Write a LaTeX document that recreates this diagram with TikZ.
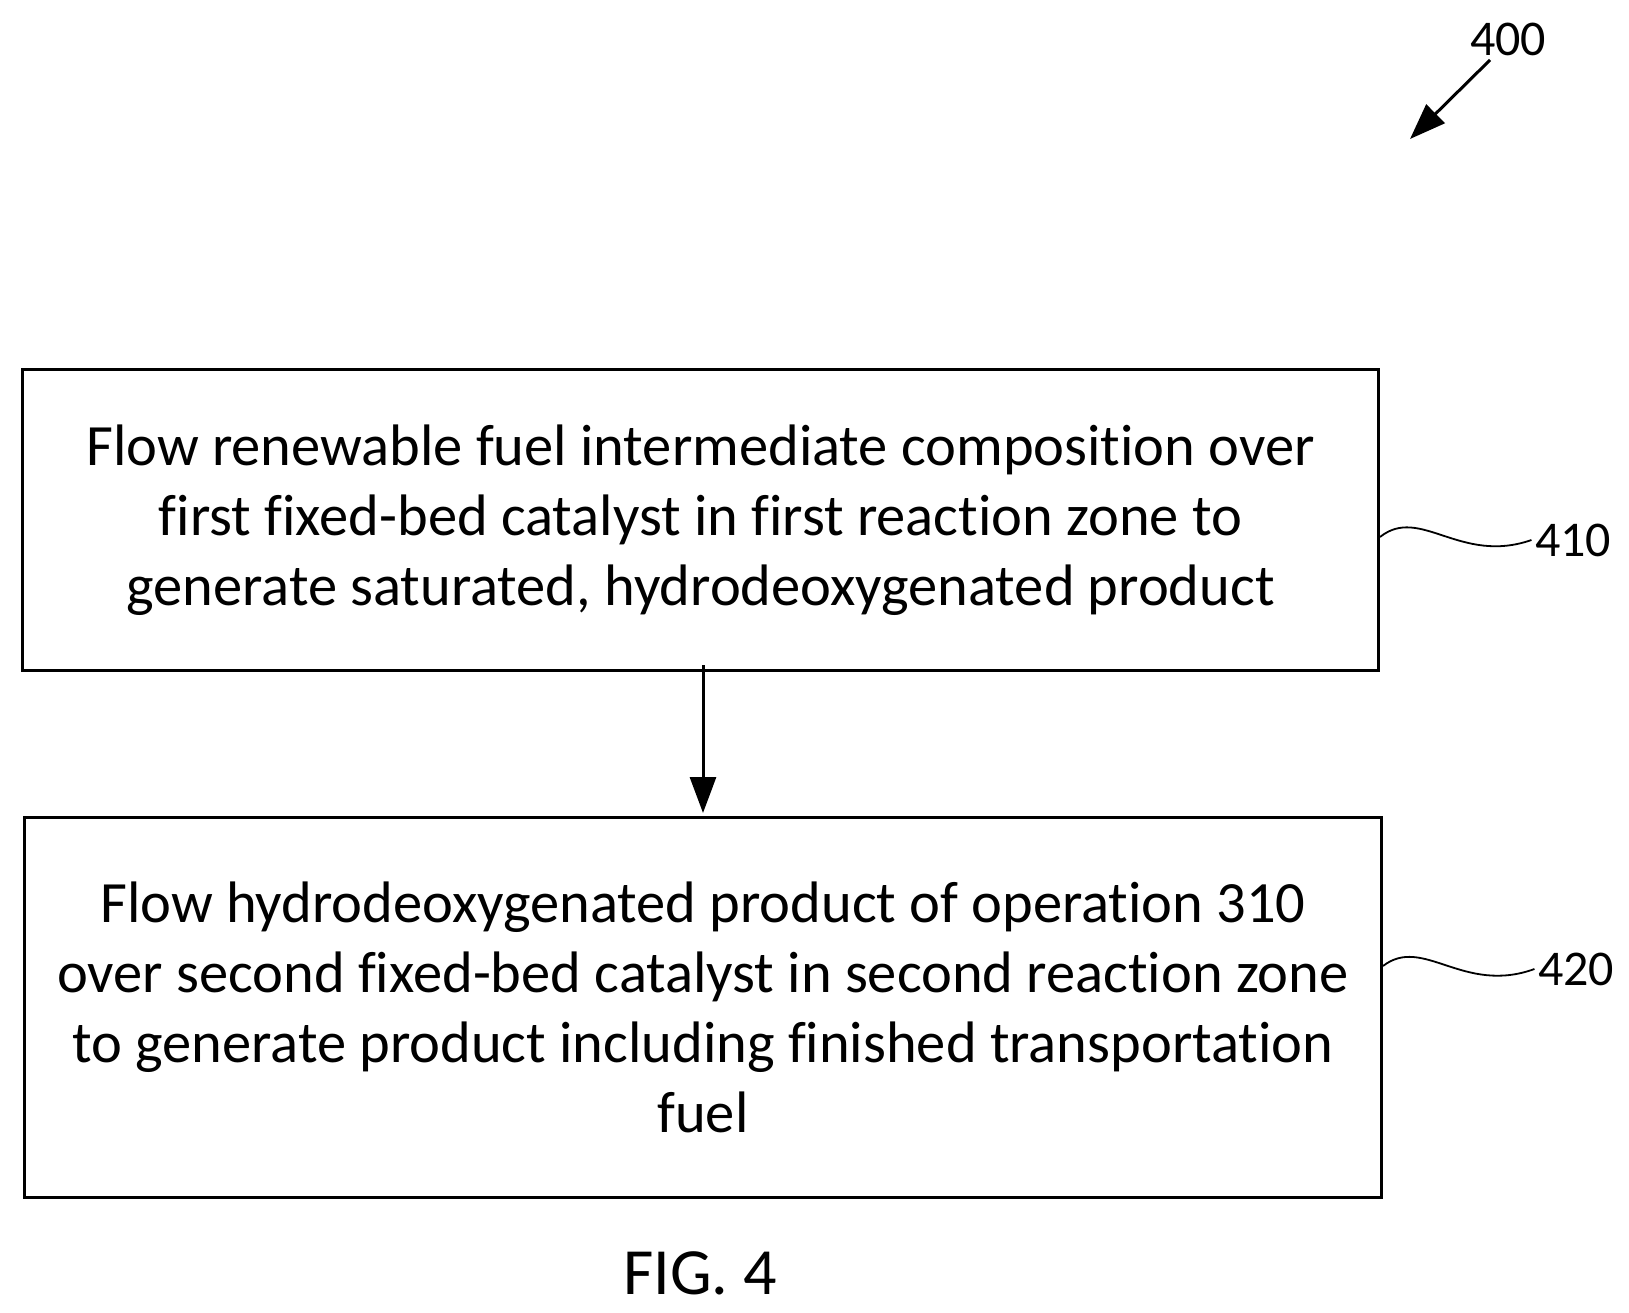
\documentclass[tikz,border=0pt]{standalone}
\usepackage{fontspec}
\setmainfont[Ligatures=NoCommon]{Carlito}
\usetikzlibrary{arrows.meta}
\begin{document}
\begin{tikzpicture}[x=1pt,y=-1pt,
  box/.style={draw,line width=3pt,anchor=north west,inner sep=0pt},
  txt/.style={align=center,font=\fontsize{58.5}{70}\selectfont},
  lbl/.style={font=\fontsize{50}{56}\selectfont},
  arr/.style={line width=3pt,-{Triangle[length=36pt,width=26pt]}}]
\useasboundingbox (0,0) rectangle (1629,1313);
\node[box,minimum width=1356pt,minimum height=301pt] (b1) at (21,368) {};
\node[txt] (t1) at (b1.center) {Flow renewable fuel intermediate composition over\\first fixed-bed catalyst in first reaction zone to\\generate saturated, hydrodeoxygenated product};
\node[box,minimum width=1357pt,minimum height=380pt] (b2) at (23,816) {};
\node[txt] (t2) at (b2.center) {Flow hydrodeoxygenated product of operation 310\\over second fixed-bed catalyst in second reaction zone\\to generate product including finished transportation\\fuel};
\draw[arr] (703,665) -- (703,813);
\node[lbl] (l410) at (1573,540) {410};
\node[lbl] (l420) at (1576,969) {420};
\draw[line width=1.8pt] (b1.east|-0,537) .. controls (1420,505) and (1460,565) .. (l410.west);
\draw[line width=1.8pt] (b2.east|-0,966) .. controls (1423,935) and (1463,995) .. (l420.west);
\node[lbl] (l400) at (1508,39) {400};
\coordinate (a0) at (1490,60);
\coordinate (a1) at (1410,139);
\draw[arr] (a0) -- (a1);
\node[font=\fontsize{66}{72}\selectfont] (fig) at (700,1273) {FIG. 4};
\end{tikzpicture}
\end{document}
